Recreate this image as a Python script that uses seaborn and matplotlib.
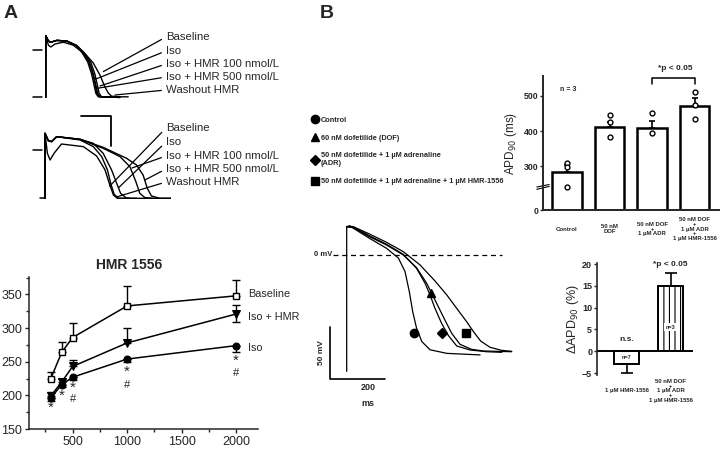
import numpy as np
import matplotlib
matplotlib.use('Agg')
import matplotlib.pyplot as plt
from matplotlib.lines import Line2D
import seaborn as sns

# ---- panel A, top: action potentials (ms, mV) ----
a1_labels = ['Baseline', 'Iso', 'Iso + HMR 100 nmol/L', 'Iso + HMR 500 nmol/L', 'Washout HMR']
a1_t_base = [0, 0, 9, 17, 37, 70, 103, 131, 159, 181, 197, 209, 220, 247, 275]
a1_v_base = [-79, 24, 15, 13, 16, 15, 8, -6, -22, -42, -61, -72, -77, -78, -78]
a1_t_iso = [0, 0, 9, 17, 31, 59, 92, 120, 139, 153, 164, 170, 180, 247]
a1_v_iso = [-79, 24, 8, 5, 10, 13, 8, -3, -14, -33, -55, -72, -78, -79]
a1_t_h100 = [0, 0, 9, 17, 37, 70, 103, 125, 145, 159, 167, 173, 181, 247]
a1_v_h100 = [-79, 24, 15, 13, 16, 15, 7, -5, -20, -40, -58, -72, -78, -79]
a1_t_h500 = [0, 0, 9, 17, 37, 70, 103, 128, 150, 164, 172, 178, 186, 247]
a1_v_h500 = [-79, 24, 15, 13, 16, 15, 7, -5, -20, -40, -58, -72, -78, -79]
a1_t_wash = [0, 0, 9, 17, 37, 70, 103, 122, 140, 153, 161, 167, 175, 247]
a1_v_wash = [-79, 24, 15, 13, 16, 15, 7, -5, -20, -40, -58, -72, -78, -79]
a1_pointer_t = [192, 164, 181, 170, 231]
a1_pointer_v = [-36, -49, -60, -64, -75]

# ---- panel A, middle ----
a2_t_base = [0, 0, 11, 22, 39, 117, 161, 189, 208, 219, 230, 244, 283, 461]
a2_v_base = [-80.5, 27.8, 15.6, 13.9, 22.2, 16.7, 5.6, -11, -33, -55.6, -73.3, -80.5, -80.5, -80.5]
a2_t_iso = [0, 0, 11, 22, 39, 117, 161, 194, 222, 239, 252, 272, 305]
a2_v_iso = [-80.5, 27.8, 15.6, 13.9, 22.2, 17.8, 11.1, -5.6, -33.3, -55.6, -72.2, -80.5, -80.5]
a2_t_h100 = [0, 0, 11, 22, 39, 117, 194, 250, 283, 303, 316, 333, 361]
a2_v_h100 = [-80.5, 27.8, 15.6, 13.9, 22.2, 17.8, 2.8, -11, -27.8, -52.8, -72.2, -79.4, -80.5]
a2_t_h500 = [0, 0, 11, 22, 39, 117, 194, 272, 305, 327, 341, 355, 383, 461]
a2_v_h500 = [-80.5, 27.8, 15.6, 13.9, 22.2, 17.8, 4.4, -13.9, -25, -41.7, -63.9, -76.7, -80.5, -80.5]
a2_t_wash = [0, 0, 8, 17, 30, 55, 128, 172, 200, 215, 228, 241, 283]
a2_v_wash = [-80.5, 27.8, -5.6, -16.7, -5.6, 10, 5.6, -10, -33, -56.7, -75, -80.5, -80.5]
a2_pointer_t = [216, 245, 290, 333, 240]
a2_pointer_v = [-60, -63, -30, -50, -78]

# ---- panel A, bottom: HMR 1556 ----
intervals = [300, 400, 500, 1000, 2000]
baseline = [225, 264, 286, 333, 348]
baseline_err = [10, 15, 22, 29, 24]
iso_hmr = [199, 220, 243, 278, 321]
iso_hmr_err_up = [6, 5, 9, 22, 14]
iso_hmr_err_dn = [0, 0, 0, 0, 12]
iso = [196, 216, 227, 254, 274]
iso_err_dn = [4, 4, 4, 5, 10]
star_y = [182, 200, 212, 235, 252]
hash_y = [np.nan, np.nan, 194, 215, 233]

# ---- panel B: AP traces (ms, mV) ----
ctrl_t = [0, 0, 12, 24, 84, 145, 188, 212, 228, 240, 254, 273, 303, 364, 485]
ctrl_v = [-113, 27.5, 28.5, 26, 16, 6.5, -3, -16, -36, -55, -71, -84, -92, -95.5, -97]
dof_t = [0, 24, 85, 145, 206, 254, 291, 309, 330, 354, 382, 412, 454, 497, 600]
dof_v = [27.5, 26.5, 17.5, 9.7, 0, -12.3, -27.5, -37.2, -48.5, -61.5, -76.1, -86.7, -91.6, -93.2, -93.9]
adr_t = [0, 24, 85, 145, 206, 254, 285, 303, 321, 345, 370, 400, 448, 509, 564]
adr_v = [27.5, 27.2, 18.4, 10.4, 0.6, -12.9, -27.5, -38.8, -51.8, -66.3, -78.3, -88.3, -92.2, -93.9, -94.5]
hmr_t = [0, 24, 85, 145, 206, 267, 321, 364, 400, 436, 461, 487, 521, 564, 600]
hmr_v = [27.5, 27.5, 20.1, 12.3, 3.2, -9.7, -25.2, -38.8, -51.8, -64.7, -74.4, -83.5, -89.6, -92.6, -93.5]
mark_t = [246, 307, 346, 433]
mark_v = [-76, -37, -76, -76]
mark_shapes = ['o', '^', 'D', 's']
legend_labels = ['Control', '60 nM dofetilide (DOF)',
                 '50 nM dofetilide + 1 µM adrenaline\n(ADR)',
                 '50 nM dofetilide + 1 µM adrenaline + 1 µM HMR-1556']

# ---- panel B: APD90 bars ----
apd_groups = ['Control', '50 nM\nDOF', '50 nM DOF\n+\n1 µM ADR', '50 nM DOF\n+\n1 µM ADR\n+\n1 µM HMR-1556']
apd_mean = [285, 412, 410, 471]
apd_err = [19, 14, 19, 24]
apd_points = [[310, 298, 225], [445, 426, 384], [452, 394], [511, 474, 433]]

# ---- panel B: delta APD90 ----
delta_groups = ['1 µM HMR-1556', '50 nM DOF\n+\n1 µM ADR\n+\n1 µM HMR-1556']
delta_mean = [-3, 15]
delta_err_dn = [2, 0]
delta_err_up = [0, 3]
delta_n = ['n=7', 'n=3']

sns.set_style('ticks')
plt.rcParams['font.family'] = ['Liberation Sans', 'DejaVu Sans']
plt.rcParams['hatch.color'] = '0.45'
plt.rcParams['hatch.linewidth'] = 0.8

W, H = 720, 455
fig = plt.figure(figsize=(W / 100, H / 100), dpi=100)


def rect(l, t, r, b):
    return [l / W, (H - b) / H, (r - l) / W, (b - t) / H]


fig.text(11 / W, 1 - 13 / H, 'A', fontsize=14, fontweight='bold', ha='center', va='center')
fig.text(327 / W, 1 - 13 / H, 'B', fontsize=14, fontweight='bold', ha='center', va='center')

# A1
ax1 = fig.add_axes(rect(27.7, 29, 171.7, 107))
ax1.axis('off')
ax1.set_xlim(-60, 420)
ax1.set_ylim(-95, 35)
for t, v in [(a1_t_base, a1_v_base), (a1_t_iso, a1_v_iso), (a1_t_h100, a1_v_h100),
             (a1_t_h500, a1_v_h500), (a1_t_wash, a1_v_wash)]:
    ax1.plot(t, v, color='k', lw=1.0)
ax1.plot([-42, -12], [0, 0], color='k', lw=1.1)
ax1.plot([-42, -12], [-79, -79], color='k', lw=1.1)
for lab, y, pt, pv in zip(a1_labels, [37, 51, 64, 77, 90], a1_pointer_t, a1_pointer_v):
    ax1.annotate(lab, xy=(pt, pv), xytext=(166, H - y), textcoords='figure pixels',
                 ha='left', va='center', fontsize=8.2,
                 arrowprops=dict(arrowstyle='-', lw=0.9, color='k', shrinkA=1, shrinkB=0, relpos=(0, 0.5)))

# A2
ax2 = fig.add_axes(rect(27, 114, 171, 207))
ax2.axis('off')
ax2.set_xlim(-60, 420)
ax2.set_ylim(-95, 60)
for t, v in [(a2_t_base, a2_v_base), (a2_t_iso, a2_v_iso), (a2_t_h100, a2_v_h100),
             (a2_t_h500, a2_v_h500), (a2_t_wash, a2_v_wash)]:
    ax2.plot(t, v, color='k', lw=1.0)
ax2.plot([-40, -10], [0, 0], color='k', lw=1.1)
ax2.plot([-17, 0], [-80.5, -80.5], color='k', lw=1.1)
ax2.plot([120, 220, 220], [56, 56, 6], color='k', lw=1.3)
for lab, y, pt, pv in zip(a1_labels, [128, 142, 156, 169, 182], a2_pointer_t, a2_pointer_v):
    ax2.annotate(lab, xy=(pt, pv), xytext=(166, H - y), textcoords='figure pixels',
                 ha='left', va='center', fontsize=8.2,
                 arrowprops=dict(arrowstyle='-', lw=0.9, color='k', shrinkA=1, shrinkB=0, relpos=(0, 0.5)))

# A3
ax3 = fig.add_axes(rect(29, 277, 258, 429))
ax3.errorbar(intervals, baseline, yerr=[np.zeros(5), baseline_err], fmt='none', ecolor='k',
             elinewidth=1, capsize=3, capthick=1, zorder=1)
ax3.errorbar(intervals, iso_hmr, yerr=[iso_hmr_err_dn, iso_hmr_err_up], fmt='none', ecolor='k',
             elinewidth=1, capsize=3, capthick=1, zorder=1)
ax3.errorbar(intervals, iso, yerr=[iso_err_dn, np.zeros(5)], fmt='none', ecolor='k',
             elinewidth=1, capsize=3, capthick=1, zorder=1)
sns.lineplot(x=intervals, y=baseline, ax=ax3, color='k', lw=1.1, marker='s', markersize=5,
             markerfacecolor='white', markeredgecolor='k', markeredgewidth=1, zorder=3)
sns.lineplot(x=intervals, y=iso_hmr, ax=ax3, color='k', lw=1.1, marker='v', markersize=6,
             markeredgecolor='k', zorder=3)
sns.lineplot(x=intervals, y=iso, ax=ax3, color='k', lw=1.1, marker='o', markersize=5,
             markeredgecolor='k', zorder=3)
for x, ys, yh in zip(intervals, star_y, hash_y):
    ax3.text(x, ys, '*', ha='center', va='center', fontsize=11)
    if not np.isnan(yh):
        ax3.text(x, yh, '#', ha='center', va='center', fontsize=8)
ax3.set_xlim(100, 2200)
ax3.set_ylim(150, 376)
ax3.set_xticks([500, 1000, 1500, 2000])
ax3.set_xticks([250, 750, 1250, 1750], minor=True)
ax3.set_yticks([150, 200, 250, 300, 350])
ax3.set_yticks([175, 225, 275, 325, 375], minor=True)
ax3.tick_params(labelsize=9, length=3, width=1, direction='out', pad=2)
ax3.tick_params(which='minor', length=2, width=1)
sns.despine(ax=ax3)
for s in ['left', 'bottom']:
    ax3.spines[s].set_linewidth(1.1)
ax3.text(0.437, 1.08, 'HMR 1556', transform=ax3.transAxes, ha='center', va='center',
         fontsize=10, fontweight='bold')
for lab, y in zip(['Baseline', 'Iso + HMR', 'Iso'], [350, 316, 270]):
    ax3.text(2110, y, lab, ha='left', va='center', fontsize=7.8, clip_on=False)

# B traces
axb = fig.add_axes(rect(310.95, 213.8, 517.2, 419.8))
axb.axis('off')
axb.set_xlim(-130, 620)
axb.set_ylim(-160, 40)
for t, v in [(ctrl_t, ctrl_v), (dof_t, dof_v), (adr_t, adr_v), (hmr_t, hmr_v)]:
    axb.plot(t, v, color='k', lw=0.9)
axb.plot([-50, 564], [0, 0], color='k', lw=0.9, ls=(0, (4, 3)))
axb.text(-52, 0, '0 mV', ha='right', va='center', fontsize=5.5, fontweight='bold')
for t, v, m in zip(mark_t, mark_v, mark_shapes):
    axb.plot(t, v, marker=m, color='k', ms=6 if m != 'D' else 5, ls='')
axb.plot([-60, -60, 140], [-70, -120, -120], color='k', lw=1.2)
axb.text(-90, -95, '50 mV', rotation=90, ha='center', va='center', fontsize=6, fontweight='bold')
axb.text(77, -129, '200', ha='center', va='center', fontsize=6.5, fontweight='bold')
axb.text(77, -144, 'ms', ha='center', va='center', fontsize=6.5, fontweight='bold')
handles = [Line2D([], [], marker=m, ls='', color='k', ms=6 if m != 'D' else 5) for m in mark_shapes]
fig.legend(handles, legend_labels, loc='upper left', bbox_to_anchor=(308 / W, 1 - 113 / H),
           frameon=False, prop=dict(size=5.3, weight='bold'), handlelength=0.8, handletextpad=0.4,
           labelspacing=1.45, borderpad=0)


# APD90 bars, broken axis
def fwd(v):
    v = np.asarray(v, float)
    return np.where(v < 250, v * 0.293, 73.25 + (v - 250))


def inv(u):
    u = np.asarray(u, float)
    return np.where(u < 73.25, u / 0.293, u - 73.25 + 250)


axa = fig.add_axes(rect(543, 76, 720, 210))
axa.set_yscale('function', functions=(fwd, inv))
sns.barplot(x=list(range(4)), y=apd_mean, ax=axa, color='white', saturation=1, edgecolor='k',
            linewidth=1.8, width=0.7, errorbar=None, native_scale=True)
axa.errorbar(range(4), apd_mean, yerr=[np.zeros(4), apd_err], fmt='none', ecolor='k',
             elinewidth=1.2, capsize=2, capthick=1.2, zorder=3)
for i, pts in enumerate(apd_points):
    axa.plot([i] * len(pts), pts, ls='', marker='o', ms=3.5, mfc='white', mec='k', mew=1, zorder=4)
axa.set_xlim(-0.565, 3.6)
axa.set_ylim(0, 556)
axa.set_yticks([0, 300, 400, 500])
axa.set_yticklabels(['0', '300', '400', '500'])
axa.set_xticks([])
axa.tick_params(axis='y', labelsize=6.3, length=2, width=1, pad=1)
for lb in axa.get_yticklabels():
    lb.set_fontweight('bold')
sns.despine(ax=axa)
for s in ['left', 'bottom']:
    axa.spines[s].set_linewidth(1.4)
axa.set_ylabel('APD$_{90}$ (ms)', fontsize=8.5)
axa.yaxis.set_label_coords(-0.135, 0.5)
axa.set_xlabel('')
for i, lab in enumerate(apd_groups):
    axa.text(i, -0.142, lab, transform=axa.get_xaxis_transform(), ha='center', va='center',
             fontsize=4.3, fontweight='bold', linespacing=0.95)
axa.plot([-0.035, 0.035], [200, 228], transform=axa.get_yaxis_transform(), color='k', lw=0.8, clip_on=False)
axa.plot([-0.035, 0.035], [222, 246], transform=axa.get_yaxis_transform(), color='k', lw=0.8, clip_on=False)
axa.text(0.096, 0.90, 'n = 3', transform=axa.transAxes, ha='left', va='center', fontsize=5, fontweight='bold')
axa.plot([2, 2, 3, 3], [533, 550, 550, 533], color='k', lw=1.1, clip_on=False)
axa.text(0.746, 1.03, '*p < 0.05', transform=axa.transAxes, ha='center', va='bottom',
         fontsize=6, fontweight='bold')

# delta APD90
axd = fig.add_axes(rect(597, 262.7, 693, 375.2))
sns.barplot(x=[0, 1], y=delta_mean, ax=axd, color='white', saturation=1, edgecolor='k',
            linewidth=1.4, width=0.57, errorbar=None, native_scale=True)
axd.patches[1].set_hatch('|||')
axd.errorbar([0, 1], delta_mean, yerr=[delta_err_dn, delta_err_up], fmt='none', ecolor='k',
             elinewidth=1.2, capsize=4, capthick=1.2, zorder=3)
axd.axhline(0, color='k', lw=1.4)
axd.set_xlim(-0.67, 1.51)
axd.set_ylim(-5.5, 20.3)
axd.set_yticks([-5, 0, 5, 10, 15, 20])
axd.set_xticks([])
axd.tick_params(axis='y', labelsize=6.5, length=2.5, width=1, pad=1)
for lb in axd.get_yticklabels():
    lb.set_fontweight('bold')
sns.despine(ax=axd, bottom=True)
axd.spines['left'].set_linewidth(1.2)
axd.set_ylabel('ΔAPD$_{90}$ (%)', fontsize=9, labelpad=1)
for i, (lab, n) in enumerate(zip(delta_groups, delta_n)):
    axd.text(i, -0.14, lab, transform=axd.get_xaxis_transform(), ha='center', va='center',
             fontsize=4.3, fontweight='bold', linespacing=0.95)
axd.text(0, -1.5, delta_n[0], ha='center', va='center', fontsize=4, fontweight='bold',
         bbox=dict(fc='white', ec='none', pad=0.8))
axd.text(1, 5.5, delta_n[1], ha='center', va='center', fontsize=4, fontweight='bold',
         bbox=dict(fc='white', ec='none', pad=1.2))
axd.text(0, 2.6, 'n.s.', ha='center', va='center', fontsize=6, fontweight='bold')
axd.text(1, 19.8, '*p < 0.05', ha='center', va='center', fontsize=6, fontweight='bold')

fig.savefig('out.png', dpi=100)
